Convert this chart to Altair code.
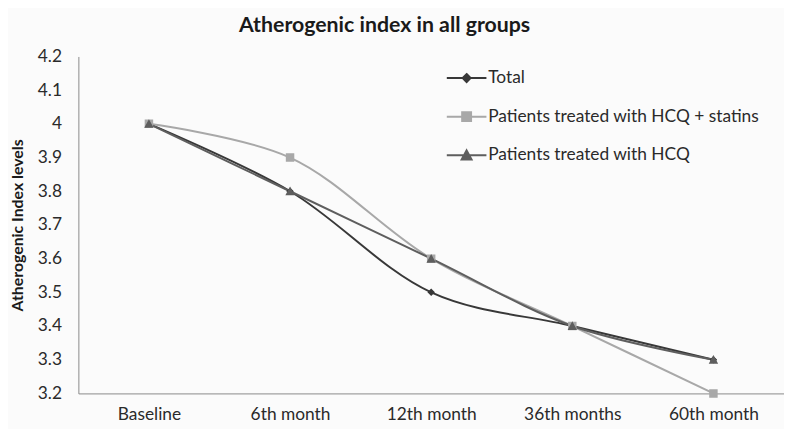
import altair as alt
import pandas as pd

categories = ["Baseline", "6th month", "12th month", "36th months", "60th month"]
series_names = ["Total", "Patients treated with HCQ + statins", "Patients treated with HCQ"]
total = [4.0, 3.8, 3.5, 3.4, 3.3]
hcq_statins = [4.0, 3.9, 3.6, 3.4, 3.2]
hcq = [4.0, 3.8, 3.6, 3.4, 3.3]

colors = ["#383838", "#a8a8a8", "#5e5e5e"]
line_widths = [2.0, 2.0, 2.6]
shapes = [
    "M-4,0H4M0,-0.8L0.8,0L0,0.8L-0.8,0Z",
    "M-4,0H4M-0.9,-0.9H0.9V0.9H-0.9Z",
    "M-4,0H4M0,-1L1,0.85H-1Z",
]

rows = []
for name, vals in zip(series_names, [total, hcq_statins, hcq]):
    for c, v in zip(categories, vals):
        rows.append({"series": name, "time": c, "value": v})
df = pd.DataFrame(rows)

FONT = "Lato"

x = alt.X("time:N", sort=categories, title=None,
          scale=alt.Scale(domain=categories, paddingInner=0, paddingOuter=0.5),
          axis=alt.Axis(labelAngle=0, ticks=False, grid=False, domainColor="#8a8a8a",
                        labelFontSize=17.5, labelColor="#2a2a2a", labelPadding=12, labelFont=FONT))
y = alt.Y("value:Q", title="Atherogenic Index levels",
          scale=alt.Scale(domain=[3.2, 4.2], nice=False, zero=False),
          axis=alt.Axis(values=[3.2, 3.3, 3.4, 3.5, 3.6, 3.7, 3.8, 3.9, 4.0, 4.1, 4.2],
                        format=".1~f", ticks=False, grid=False, domainColor="#8a8a8a",
                        labelFontSize=17.5, labelColor="#2a2a2a", labelPadding=17, labelFont=FONT,
                        titleFontSize=16, titleFont=FONT, titleFontWeight="bold",
                        titleColor="#1a1a1a", titlePadding=12))

color_scale = alt.Scale(domain=series_names, range=colors)
shape_scale = alt.Scale(domain=series_names, range=shapes)

base = alt.Chart(df)

lines = base.mark_line(interpolate="catmull-rom").encode(
    x=x, y=y,
    color=alt.Color("series:N", scale=color_scale, legend=None),
    strokeWidth=alt.StrokeWidth("series:N", scale=alt.Scale(domain=series_names, range=line_widths), legend=None),
)

points = base.mark_point(filled=True, size=90, opacity=1, strokeWidth=0).encode(
    x=x, y=y,
    color=alt.Color("series:N", scale=color_scale, legend=None),
    shape=alt.Shape("series:N", scale=shape_scale, legend=None),
)

legend = alt.Legend(title=None, orient="none", legendX=366, legendY=13,
                    labelFontSize=17.5, labelFont=FONT, labelColor="#2a2a2a",
                    symbolSize=100, symbolStrokeWidth=1.6, symbolOpacity=1,
                    symbolOffset=17, labelOffset=13, rowPadding=20, labelLimit=400)

legend_layer = base.transform_filter("false").mark_point(filled=True, size=100, strokeWidth=1.6).encode(
    x=x, y=y,
    color=alt.Color("series:N", scale=color_scale, legend=legend),
    stroke=alt.Stroke("series:N", scale=color_scale, legend=legend),
    shape=alt.Shape("series:N", scale=shape_scale, legend=legend),
)

chart = alt.layer(legend_layer, lines, points).properties(
    width=712, height=340,
    padding={"left": 71, "top": 47, "right": 0, "bottom": 34},
    autosize=alt.AutoSizeParams(type="none"),
    background="#fbfbfb",
    title=alt.Title("Atherogenic index in all groups", font=FONT, fontSize=21.5, fontWeight="bold",
                    color="#1a1a1a", anchor="middle", dx=-47, offset=11),
).configure_view(stroke=None)

chart.save("out.html", embed_options={"renderer": "svg", "actions": False})
